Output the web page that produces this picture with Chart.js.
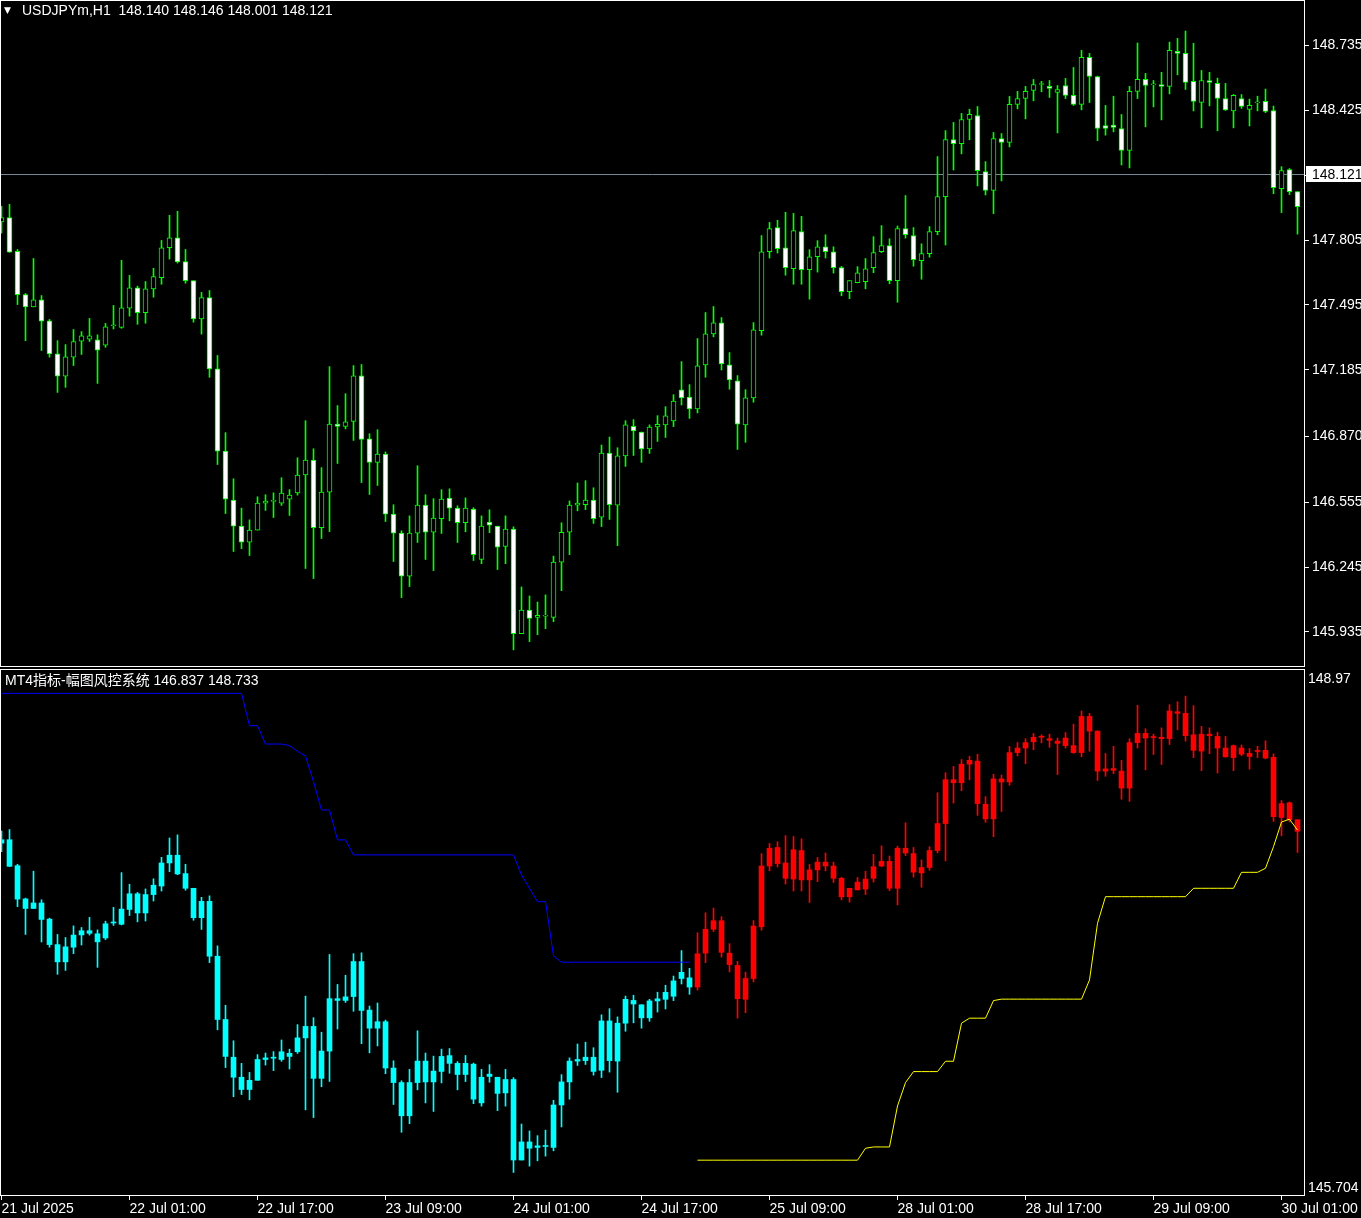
<!DOCTYPE html>
<html>
<head>
<meta charset="utf-8">
<title>USDJPYm,H1</title>
<script src="https://cdn.jsdelivr.net/npm/chart.js@4.4.0/dist/chart.umd.min.js"></script>
<style>
  html, body { margin: 0; padding: 0; background: #000; }
  #wrap { position: relative; width: 1361px; height: 1218px; background: #000; overflow: hidden; }
  #wrap canvas { position: absolute; left: 0; }
</style>
</head>
<body>
<div id="wrap">
  <canvas id="price-chart" style="top:0px" width="1361" height="667"></canvas>
  <canvas id="risk-chart" style="top:668px" width="1361" height="550"></canvas>
</div>
<script>
// H1 bars, 21 Jul 09:00 -> 30 Jul 03:00
const timeLabels = ["21 Jul 2025", "22 Jul 01:00", "22 Jul 17:00", "23 Jul 09:00", "24 Jul 01:00", "24 Jul 17:00",
  "25 Jul 09:00", "28 Jul 01:00", "28 Jul 17:00", "29 Jul 09:00", "30 Jul 01:00"];
const labelBars = [0, 16, 32, 48, 64, 80, 96, 112, 128, 144, 160];

const opens = [
  147.891, 147.912, 147.751, 147.545, 147.486, 147.520, 147.420, 147.262, 147.155, 147.246,
  147.322, 147.332, 147.329, 147.303, 147.396, 147.388, 147.480, 147.577, 147.458, 147.572,
  147.625, 147.768, 147.816, 147.702, 147.611, 147.429, 147.530, 147.190, 146.798, 146.564,
  146.440, 146.364, 146.421, 146.550, 146.558, 146.550, 146.569, 146.598, 146.684, 146.755,
  146.433, 146.602, 146.927, 146.916, 146.940, 147.157, 146.856, 146.744, 146.784, 146.497,
  146.407, 146.201, 146.407, 146.540, 146.411, 146.476, 146.574, 146.526, 146.457, 146.521,
  146.281, 146.459, 146.440, 146.343, 146.426, 145.927, 146.039, 146.005, 146.011, 146.005,
  146.268, 146.411, 146.540, 146.543, 146.564, 146.483, 146.789, 146.540, 146.775, 146.916,
  146.889, 146.808, 146.913, 146.923, 146.942, 147.090, 147.056, 146.999, 147.209, 147.357,
  147.410, 147.209, 147.133, 146.923, 147.052, 147.372, 147.749, 147.864, 147.768, 147.668,
  147.845, 147.663, 147.725, 147.773, 147.749, 147.673, 147.558, 147.601, 147.606, 147.673,
  147.749, 147.778, 147.611, 147.859, 147.826, 147.706, 147.740, 147.845, 148.012, 148.284,
  148.265, 148.380, 148.399, 148.132, 148.041, 148.289, 148.270, 148.452, 148.480, 148.519,
  148.547, 148.538, 148.509, 148.542, 148.495, 148.452, 148.676, 148.585, 148.351, 148.353,
  148.337, 148.232, 148.514, 148.571, 148.545, 148.547, 148.538, 148.705, 148.695, 148.562,
  148.461, 148.566, 148.552, 148.480, 148.421, 148.480, 148.428, 148.459, 148.466, 148.423,
  148.050, 148.141, 148.036
];
const highs = [
  147.966, 147.975, 147.760, 147.550, 147.717, 147.540, 147.426, 147.325, 147.306, 147.378,
  147.368, 147.431, 147.353, 147.407, 147.493, 147.708, 147.636, 147.585, 147.607, 147.670,
  147.803, 147.923, 147.942, 147.760, 147.611, 147.555, 147.564, 147.254, 146.886, 146.666,
  146.526, 146.470, 146.580, 146.590, 146.599, 146.671, 146.614, 146.766, 146.943, 146.809,
  146.719, 147.201, 147.015, 147.072, 147.206, 147.211, 146.881, 146.900, 146.794, 146.542,
  146.418, 146.489, 146.728, 146.590, 146.571, 146.614, 146.618, 146.537, 146.575, 146.528,
  146.489, 146.518, 146.440, 146.489, 146.437, 146.150, 146.107, 146.078, 146.112, 146.297,
  146.456, 146.560, 146.646, 146.657, 146.623, 146.827, 146.865, 146.814, 146.943, 146.948,
  146.889, 146.923, 146.967, 147.010, 147.067, 147.225, 147.115, 147.335, 147.459, 147.488,
  147.435, 147.268, 147.158, 147.091, 147.411, 147.826, 147.889, 147.899, 147.937, 147.932,
  147.918, 147.759, 147.802, 147.830, 147.773, 147.679, 147.611, 147.678, 147.717, 147.821,
  147.874, 147.811, 147.872, 148.017, 147.864, 147.787, 147.869, 148.203, 148.327, 148.366,
  148.409, 148.429, 148.442, 148.179, 148.318, 148.313, 148.490, 148.514, 148.538, 148.571,
  148.562, 148.566, 148.542, 148.576, 148.628, 148.710, 148.695, 148.587, 148.447, 148.491,
  148.404, 148.538, 148.745, 148.600, 148.566, 148.605, 148.749, 148.767, 148.802, 148.743,
  148.614, 148.605, 148.577, 148.552, 148.499, 148.499, 148.477, 148.491, 148.525, 148.444,
  148.155, 148.146, 148.036
];
const lows = [
  147.838, 147.746, 147.497, 147.325, 147.486, 147.278, 147.246, 147.078, 147.102, 147.206,
  147.259, 147.321, 147.121, 147.293, 147.381, 147.384, 147.442, 147.403, 147.408, 147.532,
  147.594, 147.714, 147.695, 147.599, 147.413, 147.356, 147.150, 146.734, 146.500, 146.319,
  146.333, 146.300, 146.421, 146.515, 146.481, 146.539, 146.491, 146.588, 146.238, 146.190,
  146.381, 146.414, 146.739, 146.904, 146.849, 146.648, 146.591, 146.634, 146.462, 146.271,
  146.099, 146.152, 146.362, 146.281, 146.228, 146.405, 146.465, 146.362, 146.413, 146.276,
  146.261, 146.409, 146.233, 146.261, 145.850, 145.927, 145.889, 145.922, 145.951, 145.984,
  146.132, 146.304, 146.513, 146.519, 146.453, 146.438, 146.472, 146.347, 146.725, 146.777,
  146.744, 146.787, 146.844, 146.863, 146.915, 147.018, 146.954, 146.980, 147.150, 147.343,
  147.185, 147.093, 146.806, 146.840, 147.031, 147.351, 147.719, 147.743, 147.637, 147.594,
  147.594, 147.523, 147.652, 147.719, 147.647, 147.539, 147.525, 147.601, 147.572, 147.649,
  147.745, 147.596, 147.508, 147.814, 147.680, 147.618, 147.723, 147.830, 147.781, 148.139,
  148.216, 148.283, 148.063, 148.020, 147.931, 148.087, 148.249, 148.431, 148.383, 148.469,
  148.512, 148.485, 148.316, 148.480, 148.447, 148.426, 148.461, 148.279, 148.305, 148.321,
  148.163, 148.149, 148.480, 148.345, 148.440, 148.378, 148.502, 148.593, 148.523, 148.421,
  148.340, 148.445, 148.326, 148.423, 148.340, 148.433, 148.349, 148.421, 148.413, 148.026,
  147.936, 148.022, 147.833
];
const closes = [
  147.912, 147.747, 147.544, 147.486, 147.520, 147.418, 147.262, 147.155, 147.248, 147.321,
  147.348, 147.348, 147.279, 147.391, 147.396, 147.482, 147.577, 147.458, 147.572, 147.630,
  147.768, 147.816, 147.700, 147.611, 147.429, 147.530, 147.190, 146.798, 146.569, 146.440,
  146.364, 146.421, 146.550, 146.560, 146.558, 146.598, 146.588, 146.684, 146.755, 146.433,
  146.602, 146.927, 146.916, 146.938, 147.157, 146.854, 146.744, 146.784, 146.497, 146.407,
  146.201, 146.407, 146.540, 146.411, 146.478, 146.569, 146.526, 146.457, 146.526, 146.304,
  146.440, 146.445, 146.340, 146.426, 145.927, 146.039, 146.000, 146.015, 146.011, 146.268,
  146.411, 146.540, 146.550, 146.564, 146.476, 146.789, 146.543, 146.775, 146.923, 146.894,
  146.808, 146.913, 146.926, 146.966, 147.037, 147.052, 146.999, 147.205, 147.357, 147.410,
  147.214, 147.138, 146.927, 147.052, 147.377, 147.749, 147.859, 147.764, 147.673, 147.850,
  147.663, 147.725, 147.773, 147.749, 147.673, 147.558, 147.611, 147.649, 147.668, 147.745,
  147.778, 147.611, 147.859, 147.830, 147.711, 147.740, 147.845, 148.012, 148.284, 148.265,
  148.380, 148.404, 148.136, 148.041, 148.289, 148.270, 148.452, 148.480, 148.514, 148.547,
  148.547, 148.528, 148.523, 148.495, 148.452, 148.676, 148.585, 148.337, 148.337, 148.342,
  148.232, 148.514, 148.571, 148.542, 148.545, 148.538, 148.710, 148.695, 148.557, 148.466,
  148.566, 148.557, 148.480, 148.426, 148.495, 148.442, 148.447, 148.459, 148.418, 148.055,
  148.136, 148.036, 147.964
];

// indicator: blue line while trend is down (bars 0..86), yellow after it flips (bars 87..162)
const blueLine = [
  148.819, 148.819, 148.819, 148.819, 148.819, 148.819, 148.819, 148.819, 148.819, 148.819,
  148.819, 148.819, 148.819, 148.819, 148.819, 148.819, 148.819, 148.819, 148.819, 148.819,
  148.819, 148.819, 148.819, 148.819, 148.819, 148.819, 148.819, 148.819, 148.819, 148.819,
  148.819, 148.619, 148.619, 148.505, 148.505, 148.505, 148.495, 148.460, 148.431, 148.272,
  148.096, 148.096, 147.911, 147.911, 147.818, 147.818, 147.818, 147.818, 147.818, 147.818,
  147.818, 147.818, 147.818, 147.818, 147.818, 147.818, 147.818, 147.818, 147.818, 147.818,
  147.818, 147.818, 147.818, 147.818, 147.818, 147.694, 147.611, 147.528, 147.528, 147.192,
  147.153, 147.153, 147.153, 147.153, 147.153, 147.153, 147.153, 147.153, 147.153, 147.153,
  147.153, 147.153, 147.153, 147.153, 147.153, 147.153, 147.153
];
const yellowLine = [
  145.926, 145.926, 145.926, 145.926, 145.926, 145.926, 145.926, 145.926, 145.926, 145.926,
  145.926, 145.926, 145.926, 145.926, 145.926, 145.926, 145.926, 145.926, 145.926, 145.926,
  145.926, 146.000, 146.008, 146.008, 146.008, 146.262, 146.407, 146.475, 146.475, 146.475,
  146.475, 146.539, 146.539, 146.775, 146.806, 146.806, 146.806, 146.915, 146.924, 146.924,
  146.924, 146.924, 146.924, 146.924, 146.924, 146.924, 146.924, 146.924, 146.924, 147.043,
  147.394, 147.559, 147.559, 147.559, 147.559, 147.559, 147.559, 147.559, 147.559, 147.559,
  147.559, 147.559, 147.611, 147.611, 147.611, 147.611, 147.611, 147.611, 147.710, 147.710,
  147.710, 147.735, 147.869, 148.022, 148.039, 147.972
];

const priceTicks = [148.735, 148.425, 148.115, 147.805, 147.495, 147.185, 146.870, 146.555, 146.245, 145.935];
const riskAxisLabels = ["148.97", "145.704"];
const bidPrice = 148.121;
const priceHeader = "USDJPYm,H1  148.140 148.146 148.001 148.121";
const riskHeader = "MT4指标-幅图风控系统 146.837 148.733";

// layout: 8px per bar, plot area 1305px wide
const xMin = -0.1875;
const xMax = xMin + 1305 / 8;
const FONT = "'Liberation Sans', 'Noto Sans CJK SC', sans-serif";

Chart.defaults.font.family = FONT;
Chart.defaults.font.size = 14;

const bodies = opens.map((o, i) => ({ x: i, y: [o, closes[i]] }));
const wicks = lows.map((l, i) => ({ x: i, y: [l, highs[i]] }));
const blueData = blueLine.map((v, i) => ({ x: i, y: v }));
const yellowData = yellowLine.map((v, i) => ({ x: i + blueLine.length, y: v }));

// fixed width price axis, no label overhang padding
const axisWidth = (scale) => {
  scale.width = 56;
  scale.paddingTop = 0;
  scale.paddingBottom = 0;
};

function drawFrame(ctx, a) {
  ctx.strokeStyle = "#ffffff";
  ctx.lineWidth = 1;
  ctx.strokeRect(a.left + 0.5, a.top + 0.5, a.right - a.left - 1, a.bottom - a.top - 1);
}

const pricePanel = {
  id: "pricePanel",
  beforeDatasetsDraw(chart) {
    const { ctx, chartArea, scales } = chart;
    const py = Math.round(scales.y.getPixelForValue(bidPrice)) + 0.5;
    ctx.save();
    ctx.strokeStyle = "#778899";
    ctx.lineWidth = 1;
    ctx.beginPath();
    ctx.moveTo(chartArea.left, py);
    ctx.lineTo(chartArea.right, py);
    ctx.stroke();
    ctx.restore();
  },
  afterDraw(chart) {
    const { ctx, chartArea, scales } = chart;
    ctx.save();
    drawFrame(ctx, chartArea);
    ctx.fillStyle = "#ffffff";
    ctx.textBaseline = "middle";
    ctx.font = "9px 'DejaVu Sans'";
    ctx.fillText("▼", 4, 11);
    ctx.font = "14px " + FONT;
    ctx.fillText(priceHeader, 22, 11);
    // current bid on the axis
    const py = Math.round(scales.y.getPixelForValue(bidPrice));
    ctx.fillStyle = "#ffffff";
    ctx.fillRect(chartArea.right + 1, py - 8, chart.width - chartArea.right - 1, 16);
    ctx.fillStyle = "#000000";
    ctx.fillText(bidPrice.toFixed(3), chartArea.right + 7, py + 1);
    ctx.restore();
  },
};

const riskPanel = {
  id: "riskPanel",
  afterDraw(chart) {
    const { ctx, chartArea } = chart;
    ctx.save();
    drawFrame(ctx, chartArea);
    ctx.fillStyle = "#ffffff";
    ctx.textBaseline = "middle";
    ctx.font = "14px " + FONT;
    ctx.fillText(riskHeader, 5, chartArea.top + 12);
    ctx.fillText(riskAxisLabels[0], chartArea.right + 3, chartArea.top + 10);
    ctx.fillText(riskAxisLabels[1], chartArea.right + 3, chartArea.bottom - 8);
    ctx.restore();
  },
};

// Price panel
new Chart(document.getElementById("price-chart"), {
  type: "bar",
  data: {
    datasets: [
      {
        data: bodies,
        order: 1,
        grouped: false,
        barThickness: 5,
        minBarLength: 1,
        borderWidth: 1,
        borderSkipped: false,
        borderColor: "#00ff00",
        backgroundColor: (c) => (closes[c.dataIndex] < opens[c.dataIndex] ? "#ffffff" : "#000000"),
      },
      {
        data: wicks,
        order: 2,
        grouped: false,
        barThickness: 1,
        minBarLength: 1,
        borderWidth: 0,
        backgroundColor: "#00ff00",
      },
    ],
  },
  options: {
    responsive: false,
    animation: false,
    events: [],
    layout: { padding: 0, autoPadding: false },
    plugins: { legend: { display: false }, tooltip: { enabled: false } },
    scales: {
      x: { type: "linear", display: false, min: xMin, max: xMax, offset: false, bounds: "data" },
      y: {
        position: "right",
        min: 145.768,
        max: 148.95,
        bounds: "data",
        beginAtZero: false,
        afterBuildTicks: (s) => {
          s.ticks = priceTicks.map((v) => ({ value: v }));
        },
        afterFit: axisWidth,
        ticks: { autoSkip: false, color: "#ffffff", padding: 3, callback: (v) => v.toFixed(3) },
        grid: { drawOnChartArea: false, drawTicks: true, tickLength: 4, color: "#ffffff" },
        border: { display: false },
      },
    },
  },
  plugins: [pricePanel],
});

// Indicator panel
const riskColor = (c) => (c.dataIndex >= blueLine.length ? "#ff0000" : "#00ffff");

new Chart(document.getElementById("risk-chart"), {
  type: "bar",
  data: {
    datasets: [
      {
        type: "line",
        data: blueData,
        order: 1,
        borderColor: "#0000ff",
        borderWidth: 1,
        pointRadius: 0,
        tension: 0,
      },
      {
        type: "line",
        data: yellowData,
        order: 1,
        borderColor: "#ffff00",
        borderWidth: 1,
        pointRadius: 0,
        tension: 0,
      },
      {
        data: bodies,
        order: 2,
        grouped: false,
        barThickness: 5,
        minBarLength: 1,
        borderWidth: 0,
        backgroundColor: riskColor,
      },
      {
        data: wicks,
        order: 3,
        grouped: false,
        barThickness: 1,
        minBarLength: 1,
        borderWidth: 0,
        backgroundColor: riskColor,
      },
    ],
  },
  options: {
    responsive: false,
    animation: false,
    events: [],
    layout: { padding: { top: 1 }, autoPadding: false },
    plugins: { legend: { display: false }, tooltip: { enabled: false } },
    scales: {
      x: {
        type: "linear",
        min: xMin,
        max: xMax,
        offset: false,
        bounds: "data",
        afterBuildTicks: (s) => {
          s.ticks = labelBars.map((v) => ({ value: v }));
        },
        afterFit: (s) => {
          s.height = 22;
        },
        ticks: {
          autoSkip: false,
          maxRotation: 0,
          minRotation: 0,
          align: "start",
          padding: 1,
          color: "#ffffff",
          callback: (v, i) => timeLabels[i],
        },
        grid: { offset: false, drawOnChartArea: false, drawTicks: true, tickLength: 4, color: "#ffffff" },
        border: { display: false },
      },
      y: {
        position: "right",
        min: 145.704,
        max: 148.97,
        bounds: "data",
        beginAtZero: false,
        afterFit: axisWidth,
        ticks: { display: false },
        grid: { display: false },
        border: { display: false },
      },
    },
  },
  plugins: [riskPanel],
});
</script>
</body>
</html>
